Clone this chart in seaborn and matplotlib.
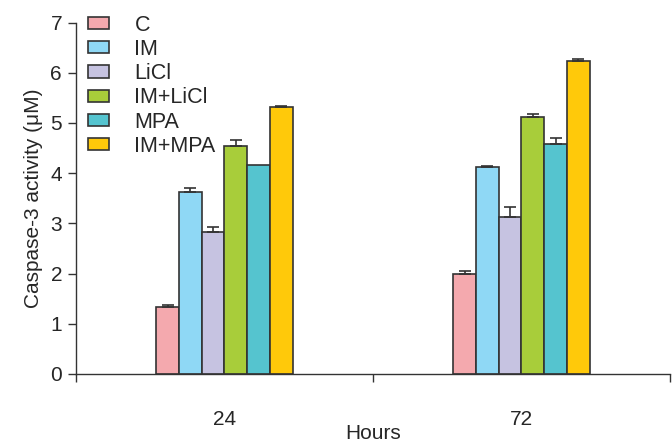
import matplotlib
matplotlib.use("Agg")
import matplotlib.pyplot as plt
import seaborn as sns
import pandas as pd
import numpy as np

hours = ["24", "72"]
treatments = ["C", "IM", "LiCl", "IM+LiCl", "MPA", "IM+MPA"]
values_24 = [1.34, 3.63, 2.83, 4.54, 4.17, 5.31]
values_72 = [2.00, 4.13, 3.12, 5.11, 4.59, 6.24]
err_24 = [0.03, 0.08, 0.09, 0.13, 0.0, 0.02]
err_72 = [0.05, 0.02, 0.20, 0.06, 0.12, 0.03]
colors = ["#F4A9AE", "#8FD8F5", "#C6C3E1", "#A8CD3A", "#55C4CF", "#FFC90A"]

rows = []
for h, vals, errs in [(hours[0], values_24, err_24), (hours[1], values_72, err_72)]:
    for t, v, e in zip(treatments, vals, errs):
        rows.append({"Hours": h, "Treatment": t, "Value": v, "Err": e})
df = pd.DataFrame(rows)

sns.set_style("ticks")
plt.rcParams["font.family"] = ["Liberation Sans", "DejaVu Sans"]

fig = plt.figure(figsize=(6.72, 4.43), dpi=100)
ax = fig.add_axes([0.113, 0.156, 0.884, 0.793])

sns.barplot(data=df, x="Hours", y="Value", hue="Treatment", order=hours,
            hue_order=treatments, palette=colors, width=0.46, gap=0,
            errorbar=None, edgecolor="#333333", linewidth=1.2, ax=ax,
            saturation=1)

# error bars (upper only)
for container, t in zip(ax.containers, treatments):
    for bar, h in zip(container.patches, hours):
        row = df[(df.Hours == h) & (df.Treatment == t)].iloc[0]
        if row.Err > 0:
            x = bar.get_x() + bar.get_width() / 2
            ax.errorbar(x, row.Value, yerr=[[0], [row.Err]], fmt="none",
                        ecolor="#333333", elinewidth=1.2, capsize=4,
                        capthick=1.2, zorder=3)

ax.set_ylim(0, 7)
ax.set_xlim(-0.5, 1.5)
ax.set_yticks(range(0, 8))
ax.set_xticks([0, 1])
ax.set_xticks([-0.5, 0.5, 1.5], minor=True)
ax.tick_params(axis="x", which="major", length=0, labelsize=15, pad=26)
ax.tick_params(axis="x", which="minor", length=6, width=1, color="#333333")
ax.tick_params(axis="y", length=6, width=1, labelsize=15, color="#333333", pad=4)
ax.set_xlabel("Hours", fontsize=15)
ax.xaxis.set_label_coords(0.5, -0.143)
ax.set_ylabel("Caspase-3 activity (\u03bcM)", fontsize=15, labelpad=5)
for s in ["top", "right"]:
    ax.spines[s].set_visible(False)
for s in ["left", "bottom"]:
    ax.spines[s].set_color("#333333")
    ax.spines[s].set_linewidth(1)

leg = ax.legend(loc="upper left", bbox_to_anchor=(0.006, 1.047), frameon=False,
                fontsize=15.5, handlelength=0.95, handleheight=0.5,
                handletextpad=1.2, labelspacing=0.15, borderaxespad=0)

fig.savefig("out.png", dpi=100)
